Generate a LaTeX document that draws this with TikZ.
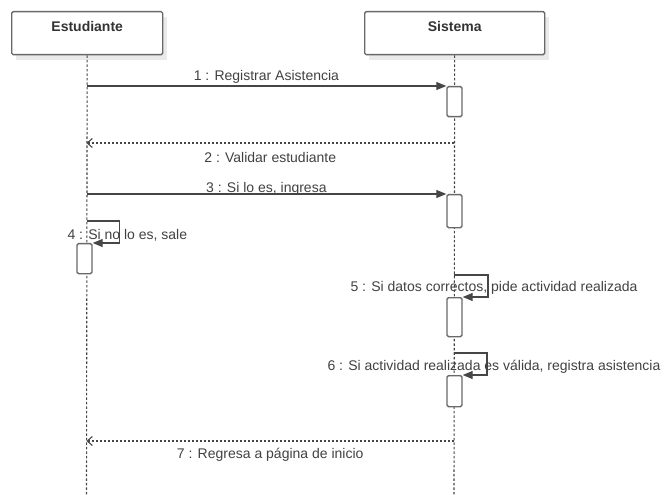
\documentclass[tikz,border=0pt]{standalone}
\usepackage{fontspec}
\setmainfont{Liberation Sans}
\usepackage{tikz}
\usepackage{xcolor}
\usetikzlibrary{arrows.meta}
\definecolor{linegray}{RGB}{70, 70, 70}
\definecolor{boxgray}{RGB}{105, 105, 105}
\definecolor{textgray}{RGB}{65, 65, 65}
\definecolor{shadowgray}{RGB}{234, 234, 234}

\begin{document}
\begin{tikzpicture}[x = 1bp, y = -1bp, line width = 1.1bp, >={Triangle[length = 10bp, width = 8bp]},
font = \fontsize{14bp}{16bp}\selectfont, text = textgray,
objbox/.style = {draw = boxgray, fill = white, rounded corners = 1.5bp, line width = 1.4bp, anchor = north west, inner sep = 0pt},
actbox/.style = {draw = boxgray, fill = white, rounded corners = 1.5bp, line width = 1.4bp, minimum width = 15bp, anchor = north, inner sep = 0pt},
lifeline/.style = {draw = linegray, line width = 1.1bp, dash pattern = on 2.5bp off 2bp},
call/.style = {draw = linegray, ->},
reply/.style = {draw = linegray, dash pattern = on 2bp off 2bp, -{Straight Barb[length = 5bp, width = 9bp]}}]
\useasboundingbox (0,0) rectangle (668,495);
\foreach \n/\t/\x/\w in {est/Estudiante/11/151, sis/Sistema/364/180}
{
\fill[shadowgray] (\x+5,17) rectangle +(\w,43);
\node[objbox, minimum width = \w bp, minimum height = 43bp] (\n) at (\x,11) {};
\node[font = \fontsize{14bp}{16bp}\selectfont\bfseries, text = black!80] (\n title) at (\n.north) [yshift = -15bp] {\t};
}
\coordinate (est end) at (86.5,495);
\coordinate (sis end) at (454,495);
\draw[lifeline] (est) -- (est end);
\draw[lifeline] (sis) -- (sis end);
\node[actbox, minimum height = 30bp] (act1) at (454.5,86) {};
\node[actbox, minimum height = 33bp] (act3) at (454.5,194) {};
\node[actbox, minimum height = 30bp] (act4) at (84.5,243) {};
\node[actbox, minimum height = 39bp] (act5) at (454.5,297) {};
\node[actbox, minimum height = 31bp] (act6) at (454.5,375) {};
\coordinate (m1) at (86.5,86);
\coordinate (m2 start) at (454,143);
\coordinate (m2 end) at (86.5,143);
\coordinate (m3) at (86.5,194);
\coordinate (m4) at (86.5,221);
\coordinate (m5) at (454,275);
\coordinate (m6) at (454,353);
\coordinate (m7 start) at (454,441);
\coordinate (m7 end) at (86.5,441);
\draw[call] (m1) -- node[above, inner sep = 2bp] (lab1) {1 : Registrar Asistencia} (act1.north west);
\draw[reply] (m2 start) -- node[below = 7bp, inner sep = 2bp] (lab2) {2 : Validar estudiante} (m2 end);
\draw[call] (m3) -- node[above, inner sep = 0pt, yshift = -1.5bp] (lab3) {3 : Si lo es, ingresa} (act3.north west);
\draw[call] (m4) -- ++(33,0) |- (act4.north east);
\node[anchor = west, inner sep = 0pt] (lab4) at (67,235) {4 : Si no lo es, sale};
\draw[call] (m5) -- ++(34,0) |- (act5.north east);
\node[anchor = west, inner sep = 0pt] (lab5) at (350,288) {5 : Si datos correctos, pide actividad realizada};
\draw[call] (m6) -- ++(33,0) |- (act6.north east);
\node[anchor = west, inner sep = 0pt] (lab6) at (327,367) {6 : Si actividad realizada es válida, registra asistencia};
\draw[reply] (m7 start) -- node[below = 5bp, inner sep = 2bp] (lab7) {7 : Regresa a página de inicio} (m7 end);
\end{tikzpicture}
\end{document}
